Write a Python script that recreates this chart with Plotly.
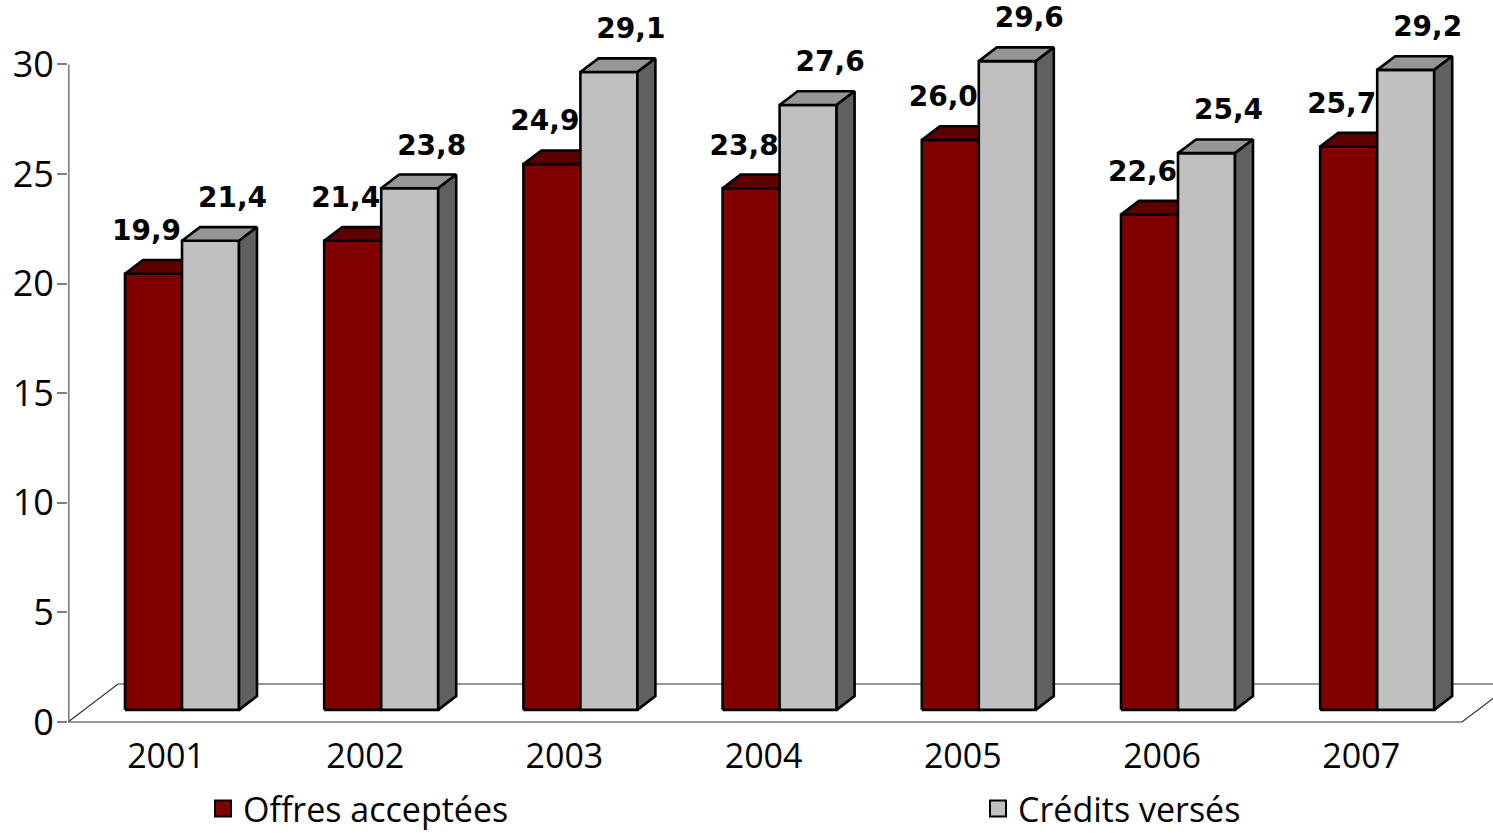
import plotly.graph_objects as go

# ---- data -------------------------------------------------------------
years = ["2001", "2002", "2003", "2004", "2005", "2006", "2007"]
offres = [19.9, 21.4, 24.9, 23.8, 26.0, 22.6, 25.7]
credits = [21.4, 23.8, 29.1, 27.6, 29.6, 25.4, 29.2]
series_names = ["Offres acceptées", "Crédits versés"]
y_ticks = [0, 5, 10, 15, 20, 25, 30]

# ---- layout geometry ----------------------------------------------------
W, H = 1493, 833
M_L, M_R, M_T, M_B = 68, 0, 0, 110
PX_X = 199.2            # pixels per category step
PX_Y = 21.917           # pixels per value unit
FIRST_CAT_PX = 98       # first category centre, from plot left edge

plot_w = W - M_L - M_R
plot_h = H - M_T - M_B
x_min = -FIRST_CAT_PX / PX_X
x_max = x_min + plot_w / PX_X
y_min = -1 / PX_Y
y_max = y_min + plot_h / PX_Y

# oblique projection of the depth axis (z from 0 = front to 1 = back)
DEPTH_DX = 50 / PX_X
DEPTH_DY = 38 / PX_Y
Z_FRONT, Z_BACK = 0.32, 0.68
BAR_W = 57 / PX_X
FLOOR_RIGHT = 6.506

RED_FRONT, RED_TOP, RED_SIDE = "#800000", "#5c0000", "#4a0000"
GRAY_FRONT, GRAY_TOP, GRAY_SIDE = "#c0c0c0", "#969696", "#606060"
FONT = "Open Sans"


def proj(x, y, z):
    return x + z * DEPTH_DX, y + z * DEPTH_DY


def polys_to_xy(polys):
    xs, ys = [], []
    for poly in polys:
        pts = [proj(*p) for p in poly]
        pts.append(pts[0])
        xs += [p[0] for p in pts] + [None]
        ys += [p[1] for p in pts] + [None]
    return xs, ys


def bar_faces(a, b, v):
    front = [(a, 0, Z_FRONT), (b, 0, Z_FRONT), (b, v, Z_FRONT), (a, v, Z_FRONT)]
    top = [(a, v, Z_FRONT), (b, v, Z_FRONT), (b, v, Z_BACK), (a, v, Z_BACK)]
    side = [(b, 0, Z_FRONT), (b, 0, Z_BACK), (b, v, Z_BACK), (b, v, Z_FRONT)]
    return front, top, side


fig = go.Figure()

# floor
fx, fy = polys_to_xy([[(x_min, 0, 0), (FLOOR_RIGHT, 0, 0), (FLOOR_RIGHT, 0, 1), (x_min, 0, 1)]])
fig.add_trace(go.Scatter(x=fx, y=fy, mode="lines", fill="toself", fillcolor="white",
                         line=dict(color="#303030", width=1.2), showlegend=False,
                         hoverinfo="skip"))

# value axis line
ax_x = x_min + 0.8 / PX_X
fig.add_trace(go.Scatter(x=[ax_x, ax_x], y=[0, y_ticks[-1]], mode="lines",
                         line=dict(color="#808080", width=1.6), showlegend=False,
                         hoverinfo="skip"))

# bars, drawn face group by face group so the grey bar covers the red side
for vals, offset, colors in [
    (offres, -BAR_W, (RED_FRONT, RED_TOP, RED_SIDE)),
    (credits, 0.0, (GRAY_FRONT, GRAY_TOP, GRAY_SIDE)),
]:
    faces = [[], [], []]
    for i, v in enumerate(vals):
        a = i + offset
        for k, f in enumerate(bar_faces(a, a + BAR_W, v)):
            faces[k].append(f)
    for k in range(3):
        xs, ys = polys_to_xy(faces[k])
        fig.add_trace(go.Scatter(x=xs, y=ys, mode="lines", fill="toself",
                                 fillcolor=colors[k],
                                 line=dict(color="black", width=2.6),
                                 showlegend=False, hoverinfo="skip"))

# value labels
LABEL_GAP = 27 / PX_Y
for vals, offset, shift in [(offres, -BAR_W, -16 / PX_X), (credits, 0.0, 13 / PX_X)]:
    lx, ly, lt = [], [], []
    for i, v in enumerate(vals):
        cx, cy = proj(i + offset + BAR_W / 2, v, Z_BACK)
        lx.append(cx - 9 / PX_X + shift)
        ly.append(cy + LABEL_GAP)
        lt.append(f"{v:.1f}".replace(".", ","))
    fig.add_trace(go.Scatter(x=lx, y=ly, mode="text", text=lt,
                             textfont=dict(family="DejaVu Sans", size=28,
                                           color="black", weight="bold"),
                             textposition="middle center", cliponaxis=False,
                             showlegend=False, hoverinfo="skip"))

# legend entries
for name, col, lw in zip(series_names, [RED_FRONT, GRAY_FRONT], [730, None]):
    fig.add_trace(go.Scatter(x=[None], y=[None], mode="markers", name=name,
                             legendwidth=lw,
                             marker=dict(symbol="square", size=16, color=col,
                                         line=dict(color="black", width=2))))

fig.update_layout(
    width=W, height=H,
    margin=dict(l=M_L, r=M_R, t=M_T, b=M_B, autoexpand=False),
    paper_bgcolor="white", plot_bgcolor="white",
    font=dict(family=FONT, size=34, color="black"),
    xaxis=dict(range=[x_min, x_max], tickvals=list(range(len(years))),
               ticktext=years, showgrid=False, zeroline=False, showline=False,
               ticks="", tickfont=dict(size=34), ticklabelstandoff=10),
    yaxis=dict(range=[y_min, y_max], tickvals=y_ticks, showgrid=False,
               zeroline=False, showline=False, ticks="outside", ticklen=10,
               tickwidth=1.6, tickcolor="#808080", tickfont=dict(size=36),
               ticklabelstandoff=-4),
    legend=dict(orientation="h", x=(203 - M_L) / plot_w, xanchor="left",
                y=-(780 - plot_h) / plot_h, yanchor="top",
                font=dict(size=34), bgcolor="rgba(0,0,0,0)"),
    showlegend=True,
)

fig.write_html("out.html")
